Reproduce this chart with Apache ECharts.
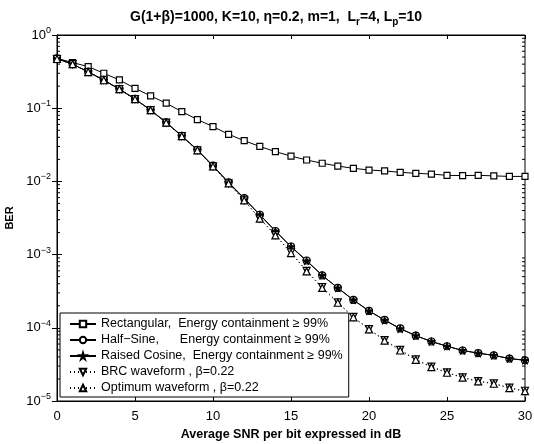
<!DOCTYPE html>
<html><head><meta charset="utf-8">
<script src="https://cdn.jsdelivr.net/npm/echarts@6/dist/echarts.min.js"></script>
<style>html,body{margin:0;padding:0;background:#fff}#c{width:534px;height:444px}</style>
</head><body><div id="c"></div>
<script>
const snr = [0,1,2,3,4,5,6,7,8,9,10,11,12,13,14,15,16,17,18,19,20,21,22,23,24,25,26,27,28,29,30];
const rectangular = [0.48,0.42,0.37,0.30,0.243,0.187,0.147,0.117,0.0897,0.070,0.056,0.044,0.036,0.030,0.0255,0.0222,0.0196,0.0177,0.0162,0.0151,0.0143,0.0139,0.0133,0.0129,0.0126,0.0121,0.0120,0.0121,0.0119,0.0117,0.0117];
const halfSine = [0.48,0.40,0.315,0.243,0.183,0.134,0.0945,0.064,0.042,0.027,0.0164,0.0097,0.0059,0.0035,0.0021,0.00129,0.00083,0.00052,0.00035,0.00024,0.00017,0.000128,0.000098,0.000078,0.000065,0.000056,0.000049,0.000045,0.000042,0.000038,0.000036];
const raisedCosine = [0.47,0.40,0.312,0.241,0.182,0.133,0.094,0.0635,0.0415,0.0268,0.0162,0.0096,0.0058,0.0035,0.0021,0.00128,0.00082,0.00052,0.00035,0.00024,0.00017,0.000127,0.000097,0.000078,0.000065,0.000056,0.000049,0.000045,0.000042,0.000038,0.000036];
const brc = [0.47,0.40,0.312,0.241,0.182,0.133,0.094,0.0635,0.0415,0.0266,0.016,0.0094,0.0055,0.0031,0.00185,0.00107,0.00060,0.00036,0.000223,0.000141,0.000096,0.000068,0.000050,0.000037,0.0000295,0.0000246,0.000021,0.0000187,0.0000174,0.0000152,0.0000138];
const optimum = [0.47,0.40,0.312,0.241,0.182,0.133,0.094,0.0635,0.0415,0.0266,0.016,0.0094,0.0055,0.0031,0.00183,0.00105,0.00059,0.00035,0.00022,0.000139,0.000095,0.000067,0.000049,0.0000365,0.000029,0.0000243,0.0000208,0.0000185,0.0000172,0.000015,0.0000136];
const seriesNames = ['Rectangular,  Energy containment \u2265 99%','Half\u2212Sine,      Energy containment \u2265 99%','Raised Cosine,  Energy containment \u2265 99%','BRC waveform , \u03b2=0.22','Optimum waveform , \u03b2=0.22'];
const xTicks = [0,5,10,15,20,25,30];

const FONT = '"Liberation Sans", Arial, sans-serif';
const star = 'path://M50,0 L61,35 L98,35 L68,57 L79,91 L50,70 L21,91 L32,57 L2,35 L39,35 Z';
function pairs(arr){ return snr.map((x,i)=>[x,arr[i]]); }

// minor log ticks (decoration)
const minorVals = [];
for (let e=-5;e<0;e++) for (let m=2;m<=9;m++) minorVals.push(m*Math.pow(10,e));

const chart = echarts.init(document.getElementById('c'), null, {renderer:'canvas'});
const expStr = v => { const e = Math.round(Math.log10(v)); return e<0 ? '\u2212'+(-e) : ''+e; };
const lineBase = {type:'line', symbolSize:7, lineStyle:{color:'#000',width:1}, itemStyle:{color:'#fff',borderColor:'#000',borderWidth:1.2}, z:3, animation:false};

chart.setOption({
  animation:false,
  backgroundColor:'#fff',
  textStyle:{fontFamily:FONT,color:'#000'},
  title:{
    left:125, top:3,
    text:'{t|G(1+\u03b2)=1000, K=10, \u03b7=0.2, m=1,  L}{s|r}{t|=4, L}{s|p}{t|=10}',
    textStyle:{rich:{
      t:{fontFamily:FONT,fontWeight:'bold',fontSize:14,color:'#000'},
      s:{fontFamily:FONT,fontWeight:'bold',fontSize:10,color:'#000',padding:[9,0,0,0]}
    }}
  },
  grid:{left:57,right:9,top:35,bottom:43,show:true,borderColor:'#000',borderWidth:1,outerBoundsMode:'none',containLabel:false},
  legend:{
    orient:'vertical', left:60, top:313,
    data:seriesNames,
    backgroundColor:'#fff', borderColor:'#000', borderWidth:1,
    padding:[4,6,2,9], itemGap:2, itemWidth:26, itemHeight:8,
    textStyle:{fontFamily:FONT,fontSize:12.5,lineHeight:14,color:'#000'},
    selectedMode:false
  },
  xAxis:[{
    type:'value', min:0, max:30, interval:5,
    name:'Average SNR per bit expressed in dB', nameLocation:'middle', nameGap:26,
    nameTextStyle:{fontFamily:FONT,fontWeight:'bold',fontSize:12.5,color:'#000'},
    axisLine:{show:true,lineStyle:{color:'#000'}},
    axisTick:{show:true,inside:true,length:4,lineStyle:{color:'#000'}},
    axisLabel:{fontFamily:FONT,fontSize:13,color:'#000',margin:9,
      formatter:v=> xTicks.includes(v)? String(v):''},
    splitLine:{show:false}
  },{
    type:'value', min:0, max:30, interval:5, position:'top',
    axisLine:{show:true,lineStyle:{color:'#000'}},
    axisTick:{show:true,inside:true,length:4,lineStyle:{color:'#000'}},
    axisLabel:{show:false}, splitLine:{show:false}
  }],
  yAxis:[{
    type:'log', logBase:10, min:1e-5, max:1,
    name:'BER', nameLocation:'middle', nameGap:33,
    nameTextStyle:{fontFamily:FONT,fontWeight:'bold',fontSize:11,color:'#000'},
    axisLine:{show:true,lineStyle:{color:'#000'}},
    axisTick:{show:true,inside:true,length:5,lineStyle:{color:'#000'}},
    axisLabel:{margin:6, formatter:v=>'{b|10}{e|'+expStr(v)+'}',
      rich:{b:{fontFamily:FONT,fontSize:13,color:'#000'},
            e:{fontFamily:FONT,fontSize:9,color:'#000',padding:[0,0,9,0]}}},
    splitLine:{show:false}
  },{
    type:'log', logBase:10, min:1e-5, max:1, position:'right',
    axisLine:{show:true,lineStyle:{color:'#000'}},
    axisTick:{show:true,inside:true,length:5,lineStyle:{color:'#000'}},
    axisLabel:{show:false}, splitLine:{show:false}
  }],
  series:[
    Object.assign({}, lineBase, {name:seriesNames[0], data:pairs(rectangular), symbol:'rect', symbolSize:6}),
    Object.assign({}, lineBase, {name:seriesNames[1], data:pairs(halfSine), symbol:'circle', symbolSize:7}),
    Object.assign({}, lineBase, {name:seriesNames[2], data:pairs(raisedCosine), symbol:star, symbolSize:8,
      itemStyle:{color:'#000',borderColor:'#000',borderWidth:1}}),
    Object.assign({}, lineBase, {name:seriesNames[3], data:pairs(brc), symbol:'triangle', symbolRotate:180, symbolSize:7,
      lineStyle:{color:'#000',width:1,type:[1,3]}}),
    Object.assign({}, lineBase, {name:seriesNames[4], data:pairs(optimum), symbol:'triangle', symbolSize:7,
      lineStyle:{color:'#000',width:1,type:[1,3]}}),
    {
      type:'custom', silent:true, z:2, animation:false, legendHoverLink:false,
      data:minorVals.map(v=>[0,v]),
      renderItem:(params,api)=>{
        const y = api.coord([0,api.value(1)])[1];
        const x0 = api.coord([0,1])[0], x1 = api.coord([30,1])[0];
        return {type:'group',children:[
          {type:'line',shape:{x1:x0,y1:y,x2:x0+3,y2:y},style:{stroke:'#000',lineWidth:1}},
          {type:'line',shape:{x1:x1,y1:y,x2:x1-3,y2:y},style:{stroke:'#000',lineWidth:1}}
        ]};
      }
    }
  ]
});
</script></body></html>
